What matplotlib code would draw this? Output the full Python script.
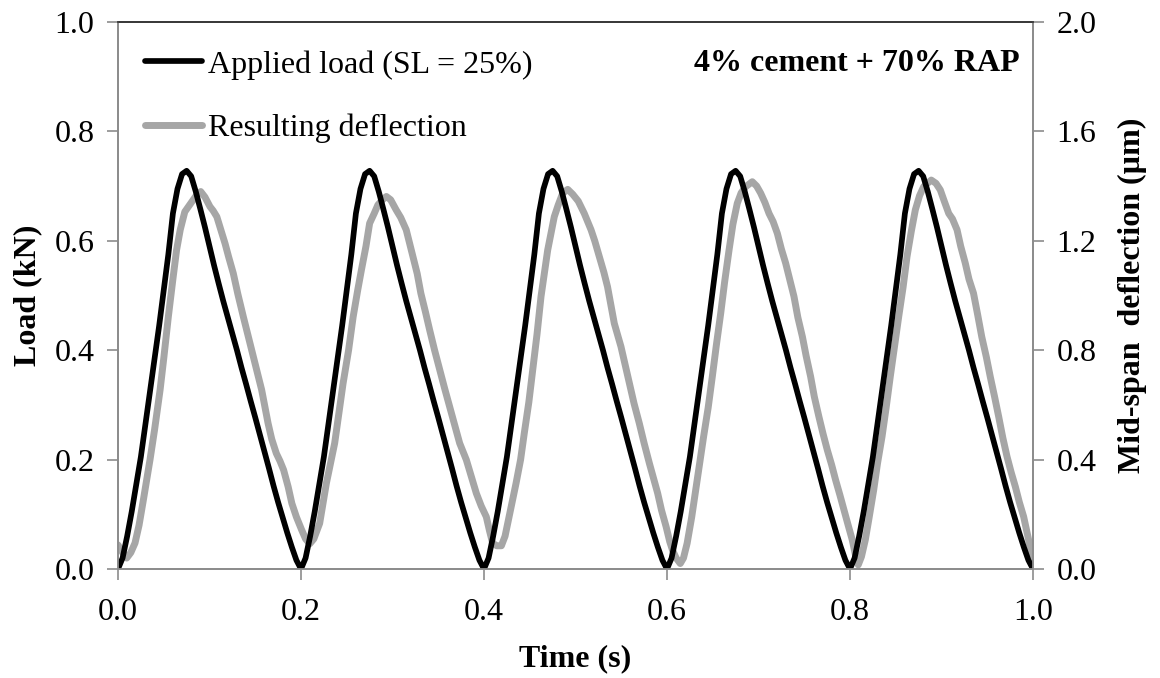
import numpy as np
import matplotlib
matplotlib.use("Agg")
import matplotlib.pyplot as plt
from matplotlib.ticker import FormatStrFormatter

plt.rcParams['font.family'] = ['Liberation Serif', 'DejaVu Serif']

# ---- applied load (kN), sampled every 0.005 s, one list per 0.2 s cycle ----
load_c1 = [0.000, 0.020, 0.060, 0.105, 0.155, 0.205, 0.265, 0.325, 0.385, 0.445,
           0.510, 0.575, 0.650, 0.695, 0.722, 0.728, 0.718, 0.690, 0.658, 0.625,
           0.590, 0.555, 0.522, 0.490, 0.460, 0.430, 0.400, 0.368, 0.338, 0.307,
           0.277, 0.246, 0.215, 0.184, 0.152, 0.122, 0.094, 0.066, 0.040, 0.016]
load_c2 = [0.000, 0.020, 0.060, 0.105, 0.155, 0.205, 0.265, 0.325, 0.385, 0.445,
           0.510, 0.575, 0.650, 0.695, 0.722, 0.728, 0.718, 0.690, 0.658, 0.625,
           0.590, 0.555, 0.522, 0.490, 0.460, 0.430, 0.400, 0.368, 0.338, 0.307,
           0.277, 0.246, 0.215, 0.184, 0.152, 0.122, 0.094, 0.066, 0.040, 0.016]
load_c3 = [0.000, 0.020, 0.060, 0.105, 0.155, 0.205, 0.265, 0.325, 0.385, 0.445,
           0.510, 0.575, 0.650, 0.695, 0.722, 0.728, 0.718, 0.690, 0.658, 0.625,
           0.590, 0.555, 0.522, 0.490, 0.460, 0.430, 0.400, 0.368, 0.338, 0.307,
           0.277, 0.246, 0.215, 0.184, 0.152, 0.122, 0.094, 0.066, 0.040, 0.016]
load_c4 = [0.000, 0.020, 0.060, 0.105, 0.155, 0.205, 0.265, 0.325, 0.385, 0.445,
           0.510, 0.575, 0.650, 0.695, 0.722, 0.728, 0.718, 0.690, 0.658, 0.625,
           0.590, 0.555, 0.522, 0.490, 0.460, 0.430, 0.400, 0.368, 0.338, 0.307,
           0.277, 0.246, 0.215, 0.184, 0.152, 0.122, 0.094, 0.066, 0.040, 0.016]
load_c5 = [0.000, 0.020, 0.060, 0.105, 0.155, 0.205, 0.265, 0.325, 0.385, 0.445,
           0.510, 0.575, 0.650, 0.695, 0.722, 0.728, 0.718, 0.690, 0.658, 0.625,
           0.590, 0.555, 0.522, 0.490, 0.460, 0.430, 0.400, 0.368, 0.338, 0.307,
           0.277, 0.246, 0.215, 0.184, 0.152, 0.122, 0.094, 0.066, 0.040, 0.016]
load_end = [0.000]
load_kN = load_c1 + load_c2 + load_c3 + load_c4 + load_c5 + load_end
load_time = np.arange(len(load_kN)) * 0.005

# ---- measured mid-span deflection (um) ----
defl_time = [
    0.000, 0.005, 0.0095, 0.014, 0.0186, 0.023, 0.0277, 0.035, 0.040, 0.046,
    0.050, 0.055, 0.060, 0.064, 0.068, 0.073, 0.077, 0.082, 0.086, 0.0904,
    0.095, 0.1005, 0.104, 0.108, 0.112, 0.117, 0.121, 0.126, 0.131, 0.137,
    0.142, 0.148, 0.152, 0.157, 0.164, 0.168, 0.173, 0.177, 0.181, 0.186,
    0.190, 0.195, 0.2007, 0.205, 0.2095,
    0.214, 0.2204, 0.2277, 0.2368, 0.246, 0.252, 0.257, 0.262, 0.266, 0.271,
    0.275, 0.280, 0.284, 0.289, 0.2933, 0.298, 0.304, 0.309, 0.315, 0.3224,
    0.327, 0.331, 0.336, 0.3406, 0.346, 0.3516, 0.357, 0.3625, 0.368, 0.3734,
    0.377, 0.3807, 0.386, 0.3916, 0.397, 0.4025, 0.406, 0.4095, 0.414, 0.419,
    0.423, 0.4259, 0.430, 0.435, 0.440, 0.444, 0.449, 0.4532, 0.458, 0.4623,
    0.4696, 0.4768, 0.481, 0.486, 0.4915, 0.497, 0.503, 0.5096, 0.517, 0.521,
    0.526, 0.531, 0.535, 0.5424, 0.5497, 0.554, 0.5588, 0.564, 0.5697, 0.575,
    0.5807, 0.585, 0.5898, 0.594, 0.599, 0.603, 0.606, 0.610, 0.6145,
    0.618, 0.622, 0.627, 0.6314, 0.636, 0.640, 0.645, 0.6495, 0.654, 0.6587,
    0.663, 0.6678, 0.672, 0.6768, 0.681, 0.686, 0.6932, 0.698, 0.7024, 0.707,
    0.7115, 0.716, 0.7206, 0.725, 0.7297, 0.734, 0.7388, 0.743, 0.748, 0.752,
    0.757, 0.761, 0.766, 0.7705, 0.7752, 0.780, 0.7843, 0.789, 0.7934, 0.798,
    0.8025, 0.806, 0.809,
    0.8125, 0.8167, 0.821, 0.8259, 0.830, 0.835, 0.8395, 0.844, 0.8485, 0.8532,
    0.858, 0.8623, 0.867, 0.8714, 0.876, 0.8805, 0.8888, 0.894, 0.8987, 0.903,
    0.9079, 0.912, 0.917, 0.921, 0.926, 0.930, 0.935, 0.9395, 0.944, 0.949,
    0.9533, 0.958, 0.9625, 0.967, 0.9716, 0.976, 0.9807, 0.985, 0.9898, 0.995,
    0.999]
defl_um = [
    0.088, 0.060, 0.040, 0.060, 0.095, 0.160, 0.252, 0.400, 0.510, 0.655,
    0.770, 0.922, 1.060, 1.166, 1.240, 1.306, 1.325, 1.349, 1.368, 1.380,
    1.360, 1.325, 1.310, 1.288, 1.245, 1.190, 1.140, 1.081, 1.005, 0.922,
    0.855, 0.776, 0.720, 0.655, 0.533, 0.475, 0.423, 0.395, 0.362, 0.300,
    0.240, 0.190, 0.143, 0.110, 0.092,
    0.110, 0.167, 0.313, 0.460, 0.679, 0.800, 0.922, 1.020, 1.093, 1.180,
    1.264, 1.300, 1.331, 1.350, 1.362, 1.350, 1.313, 1.285, 1.240, 1.142,
    1.080, 1.008, 0.940, 0.874, 0.800, 0.728, 0.660, 0.593, 0.525, 0.460,
    0.430, 0.399, 0.340, 0.277, 0.230, 0.191, 0.140, 0.094, 0.085, 0.085,
    0.120, 0.167, 0.235, 0.313, 0.400, 0.496, 0.610, 0.728, 0.860, 0.996,
    1.166, 1.288, 1.330, 1.374, 1.388, 1.370, 1.345, 1.300, 1.240, 1.200,
    1.142, 1.085, 1.032, 0.898, 0.813, 0.750, 0.679, 0.605, 0.533, 0.460,
    0.387, 0.335, 0.277, 0.215, 0.155, 0.100, 0.069, 0.040, 0.020,
    0.040, 0.094, 0.190, 0.289, 0.390, 0.484, 0.590, 0.703, 0.820, 0.935,
    1.050, 1.166, 1.260, 1.337, 1.375, 1.398, 1.416, 1.400, 1.374, 1.340,
    1.300, 1.270, 1.227, 1.170, 1.118, 1.060, 0.996, 0.920, 0.849, 0.780,
    0.703, 0.630, 0.557, 0.495, 0.435, 0.380, 0.325, 0.270, 0.216, 0.160,
    0.106, 0.050, 0.015,
    0.045, 0.106, 0.190, 0.289, 0.385, 0.484, 0.590, 0.703, 0.810, 0.922,
    1.030, 1.142, 1.235, 1.313, 1.365, 1.398, 1.422, 1.410, 1.386, 1.345,
    1.300, 1.280, 1.240, 1.180, 1.118, 1.060, 1.008, 0.930, 0.849, 0.775,
    0.703, 0.630, 0.557, 0.480, 0.411, 0.355, 0.301, 0.245, 0.191, 0.110,
    0.033]

x_ticks = [0.0, 0.2, 0.4, 0.6, 0.8, 1.0]
load_ticks = [0.0, 0.2, 0.4, 0.6, 0.8, 1.0]
defl_ticks = [0.0, 0.4, 0.8, 1.2, 1.6, 2.0]

FS = 23
GREY_AX = '#8c8c8c'

fig = plt.figure(figsize=(11.6, 6.78), dpi=100)
ax = fig.add_axes([118 / 1160, 1 - 569 / 678, 915 / 1160, 547 / 678])
ax2 = ax.twinx()

# deflection on the secondary axis, load drawn above it
ax.set_zorder(ax2.get_zorder() + 1)
ax.patch.set_visible(False)

l_defl, = ax2.plot(defl_time, defl_um, color='#a6a6a6', lw=5.0,
                   solid_joinstyle='round', solid_capstyle='round',
                   label='Resulting deflection')
l_load, = ax.plot(load_time, load_kN, color='black', lw=4.1,
                  solid_joinstyle='round', solid_capstyle='round',
                  label='Applied load (SL = 25%)')

ax.set_xlim(0, 1.0)
ax.set_ylim(0, 1.0)
ax2.set_ylim(0, 2.0)
ax.set_xticks(x_ticks)
ax.set_yticks(load_ticks)
ax2.set_yticks(defl_ticks)
for a in (ax, ax2):
    a.xaxis.set_major_formatter(FormatStrFormatter('%.1f'))
    a.yaxis.set_major_formatter(FormatStrFormatter('%.1f'))
    a.tick_params(direction='out', length=8, width=1.2, color=GREY_AX,
                  labelsize=FS, pad=9)
    for side, sp in a.spines.items():
        sp.set_color(GREY_AX)
        sp.set_linewidth(1.3)
    a.spines['top'].set_color('#3a3a3a')
ax.tick_params(axis='x', pad=13)

ax.set_xlabel('Time (s)', fontsize=FS, fontweight='bold', labelpad=12)
ax.set_ylabel('Load (kN)', fontsize=FS, fontweight='bold', labelpad=9)
ax2.set_ylabel('Mid-span  deflection (\u00b5m)', fontsize=FS, fontweight='bold',
               labelpad=15)

ax.text(0.985, 0.925, '4% cement + 70% RAP', transform=ax.transAxes,
        ha='right', va='center', fontsize=FS, fontweight='bold')

ax.legend(handles=[l_load, l_defl], loc='upper left',
          bbox_to_anchor=(0.015, 0.972), frameon=False, fontsize=FS,
          handlelength=1.8, handletextpad=0.2, labelspacing=1.06,
          borderaxespad=0.0)

fig.savefig('out.png', dpi=100)
